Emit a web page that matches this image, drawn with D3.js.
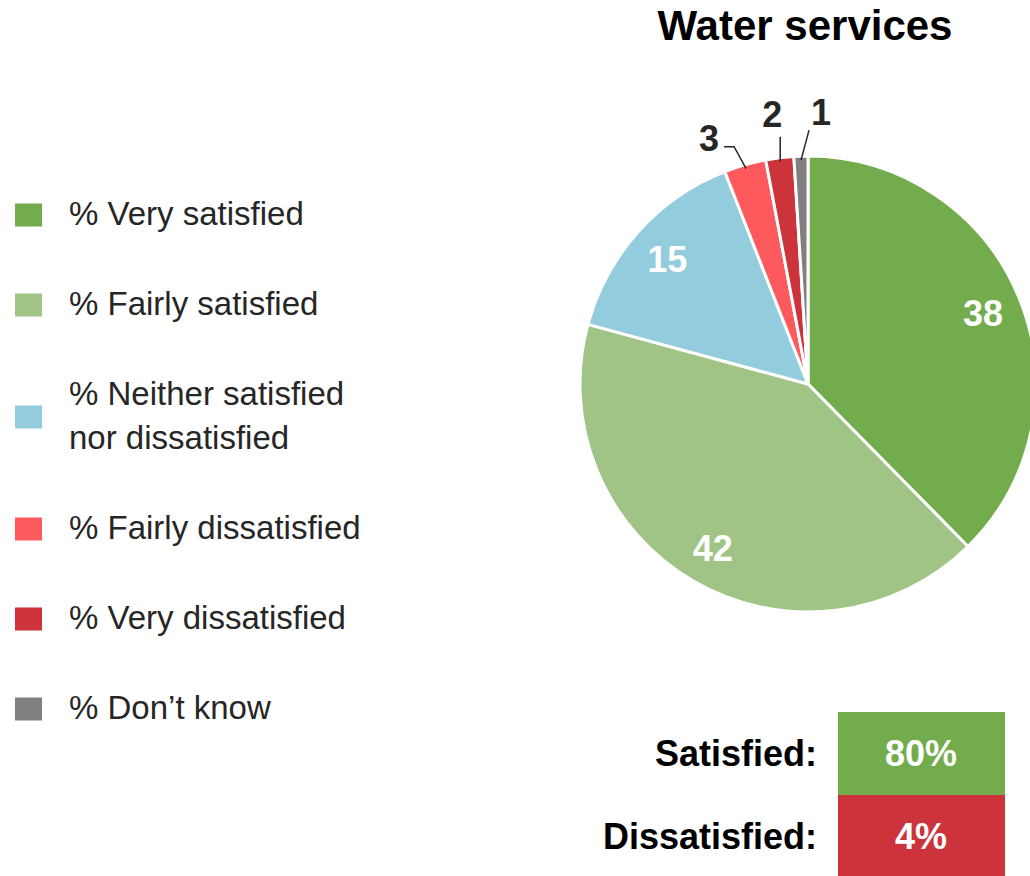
<!DOCTYPE html>
<html>
<head>
<meta charset="utf-8">
<script src="https://cdn.jsdelivr.net/npm/d3@7"></script>
<style>
  html, body { margin: 0; padding: 0; background: #fff; }
  svg { display: block; font-family: "Liberation Sans", Arial, sans-serif; }
</style>
</head>
<body>
<div id="chart"></div>
<script>
// data
var title = "Water services";
var categories = ["% Very satisfied", "% Fairly satisfied", "% Neither satisfied\nnor dissatisfied", "% Fairly dissatisfied", "% Very dissatisfied", "% Don\u2019t know"];
var values = [38, 42, 15, 3, 2, 1];
var colors = ["#72ac4d", "#9fc485", "#93cddd", "#fe5a5e", "#cc333b", "#808080"];
var summaryLabels = ["Satisfied:", "Dissatisfied:"];
var summaryValues = [80, 4];
var summaryColors = ["#72ac4d", "#cc333b"];

var W = 1030, H = 876;
var cx = 808, cy = 384, R = 228;

var svg = d3.select("#chart").append("svg")
  .attr("width", W)
  .attr("height", H);

//title
svg.append("text")
  .attr("x", 805)
  .attr("y", 40)
  .attr("text-anchor", "middle")
  .style("font-size", "42px")
  .style("font-weight", "bold")
  .attr("fill", "#000")
  .text(title);

//pie
var pie = d3.pie().sort(null).value(function(d){ return d; });
var arcs = pie(values);
var arc = d3.arc().innerRadius(0).outerRadius(R);
var labelArc = d3.arc().innerRadius(189).outerRadius(189);

var g = svg.append("g").attr("transform", "translate(" + cx + "," + cy + ")");

g.selectAll("path.slice")
  .data(arcs)
  .enter().append("path")
  .attr("class", "slice")
  .attr("d", arc)
  .attr("fill", function(d, i){ return colors[i]; })
  .attr("stroke", "#fff")
  .attr("stroke-width", 3)
  .attr("stroke-linejoin", "round");

//big slices get labels inside
g.selectAll("text.inside")
  .data(arcs.filter(function(d){ return d.value >= 10; }))
  .enter().append("text")
  .attr("class", "inside")
  .attr("transform", function(d){ var c = labelArc.centroid(d); return "translate(" + c[0] + "," + c[1] + ")"; })
  .attr("text-anchor", "middle")
  .attr("dy", "0.38em")
  .style("font-size", "36px")
  .style("font-weight", "bold")
  .attr("fill", "#fff")
  .text(function(d){ return d.value; });

//small slices: outside labels with leader lines (offsets from the arc edge)
var callouts = {
  3: { pts: [[-12, -22], [-22, -22]], text: [-27, -18], anchor: "end" },
  4: { pts: [[0, -25]], text: [-8, -35], anchor: "middle" },
  5: { pts: [[8, -30]], text: [20, -35], anchor: "middle" }
};

function edgePoint(d, r) {
  var a = (d.startAngle + d.endAngle) / 2;
  return [Math.sin(a) * r, -Math.cos(a) * r];
}

arcs.forEach(function(d, i){
  var c = callouts[i];
  if(!c) return;
  var p0 = edgePoint(d, R - 4);
  var line = [p0].concat(c.pts.map(function(o){ return [p0[0] + o[0], p0[1] + o[1]]; }));
  g.append("path")
    .attr("d", d3.line()(line))
    .attr("fill", "none")
    .attr("stroke", "#262626")
    .attr("stroke-width", 1.5);
  g.append("text")
    .attr("x", p0[0] + c.text[0])
    .attr("y", p0[1] + c.text[1])
    .attr("text-anchor", c.anchor)
    .style("font-size", "36px")
    .style("font-weight", "bold")
    .attr("fill", "#262626")
    .text(d.value);
});

//legend
var legend = svg.append("g");
var baseline = 225, lineH = 44, pitch = 90;
categories.forEach(function(name, i){
  var lines = name.split("\n");
  var mid = baseline + (lines.length - 1) * lineH / 2 - 10;
  legend.append("rect")
    .attr("x", 15)
    .attr("y", mid - 11.5)
    .attr("width", 27)
    .attr("height", 23)
    .attr("fill", colors[i]);
  var t = legend.append("text")
    .attr("x", 69)
    .attr("y", baseline)
    .style("font-size", "33px")
    .attr("fill", "#262626");
  lines.forEach(function(l, j){
    t.append("tspan").attr("x", 69).attr("y", baseline + j * lineH).text(l);
  });
  baseline += (lines.length - 1) * lineH + pitch;
});

//summary boxes
var boxY = d3.scaleBand().domain(summaryLabels).range([712, 878]);
var sum = svg.append("g");
summaryLabels.forEach(function(lab, i){
  var y = boxY(lab), h = boxY.bandwidth();
  sum.append("rect")
    .attr("x", 838)
    .attr("y", y)
    .attr("width", 167)
    .attr("height", h)
    .attr("fill", summaryColors[i]);
  sum.append("text")
    .attr("x", 921)
    .attr("y", y + h / 2)
    .attr("dy", "0.36em")
    .attr("text-anchor", "middle")
    .style("font-size", "36px")
    .style("font-weight", "bold")
    .attr("fill", "#fff")
    .text(summaryValues[i] + "%");
  sum.append("text")
    .attr("x", 817)
    .attr("y", y + h / 2)
    .attr("dy", "0.36em")
    .attr("text-anchor", "end")
    .style("font-size", "36px")
    .style("font-weight", "bold")
    .attr("fill", "#000")
    .text(lab);
});
</script>
</body>
</html>
